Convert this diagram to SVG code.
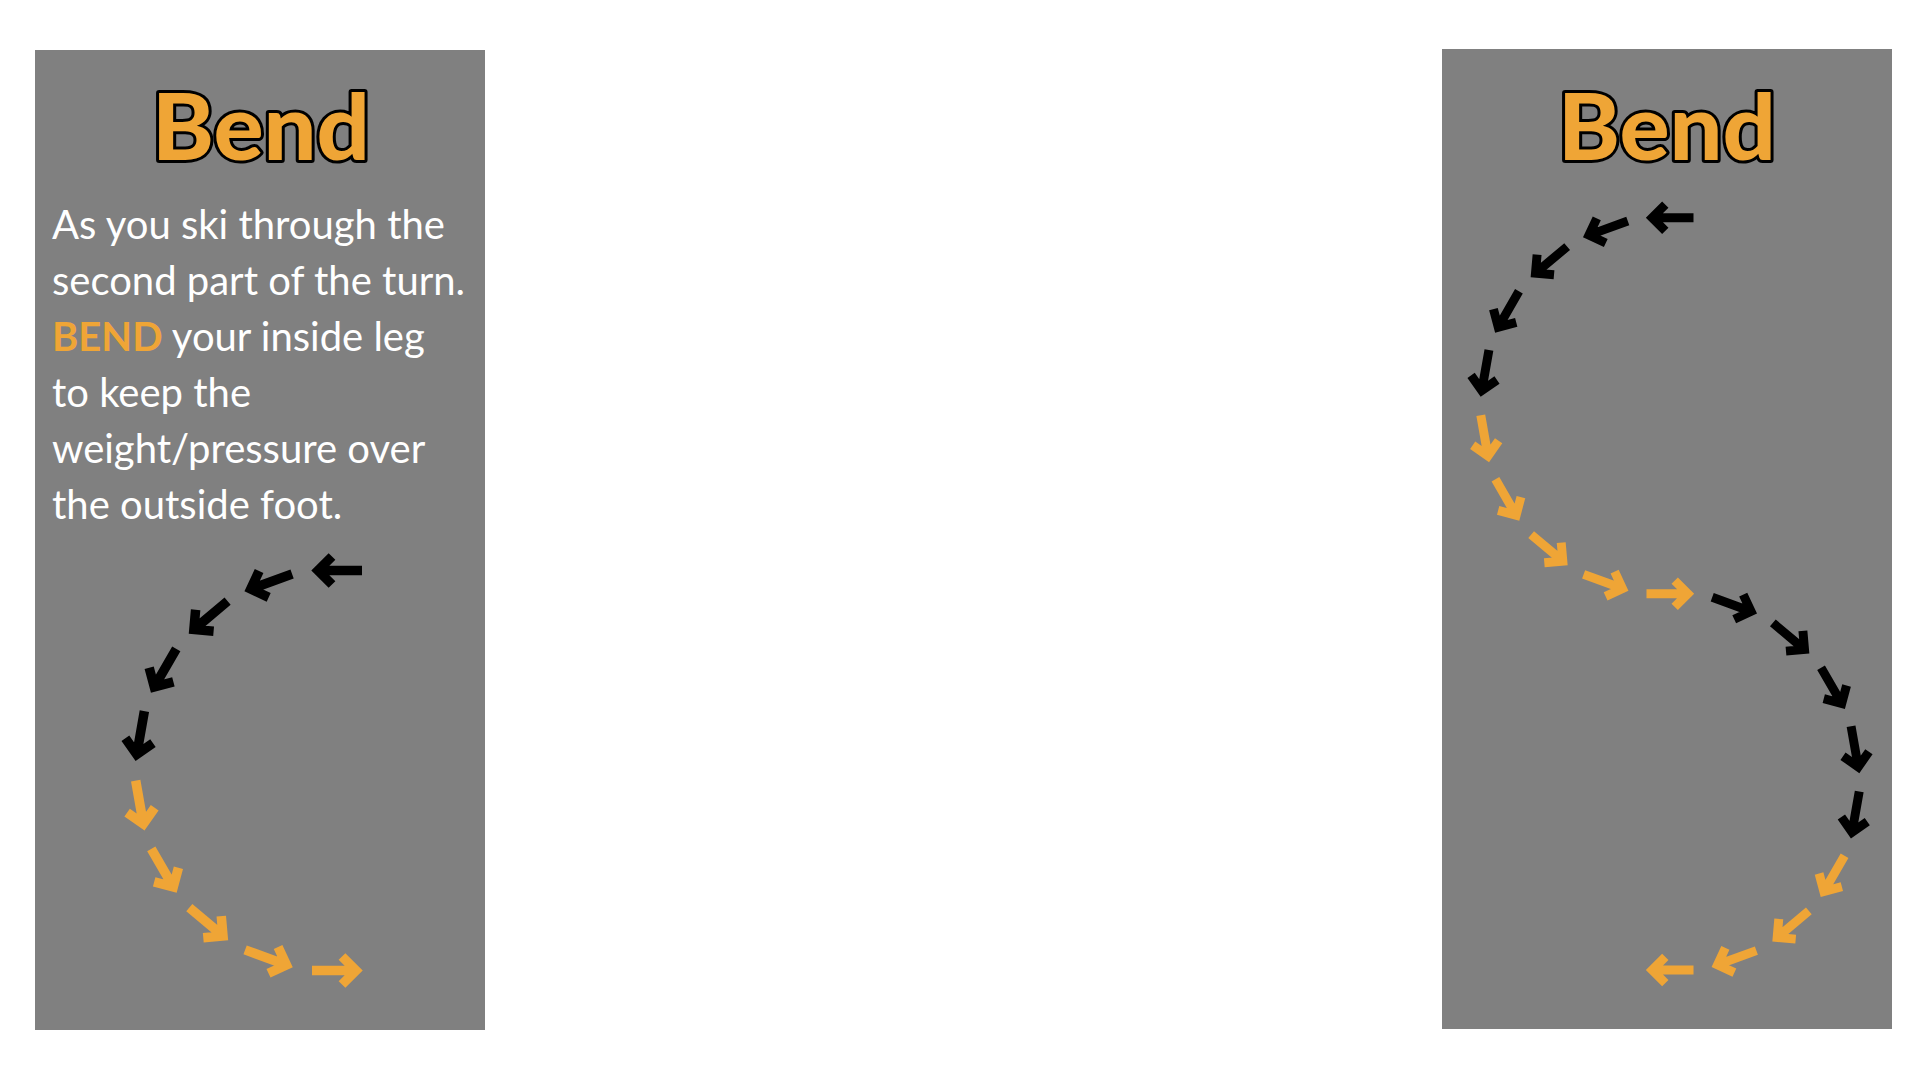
<svg xmlns="http://www.w3.org/2000/svg" xmlns:xlink="http://www.w3.org/1999/xlink" width="1920" height="1080" viewBox="0 0 1920 1080">
<style>
.panel{fill:#808080}
.title{font-family:Lato,"Liberation Sans",sans-serif;font-weight:900;font-size:92px;fill:#EFA536;stroke:#000;stroke-width:6px;stroke-linejoin:round;paint-order:stroke;text-anchor:middle}
.body{font-family:Lato,"Liberation Sans",sans-serif;font-size:40px;fill:#fff}
.hl{fill:#EFA536;font-weight:700}
.k{stroke:#000}
.o{stroke:#EFA536}
</style>
<defs>
<path id="arr" d="M-25 0 H19 M5 -14 L19 0 L5 14" fill="none" stroke-width="9.5" stroke-linejoin="miter" stroke-linecap="butt"/>
</defs>
<rect width="1920" height="1080" fill="#fff"/>
<g id="panel-left">
<rect class="panel" x="35" y="50" width="450" height="980"/>
<text class="title" x="261" y="160" textLength="218" lengthAdjust="spacingAndGlyphs">Bend</text>
<text class="body" x="52"><tspan x="52" y="239">As you ski through the</tspan><tspan x="52" y="295">second part of the turn.</tspan><tspan x="52" y="351"><tspan class="hl">BEND</tspan> your inside leg</tspan><tspan x="52" y="407">to keep the</tspan><tspan x="52" y="463">weight/pressure over</tspan><tspan x="52" y="519">the outside foot.</tspan></text>
</g>
<g id="panel-right">
<rect class="panel" x="1442" y="49" width="450" height="980"/>
<text class="title" x="1667" y="160" textLength="218" lengthAdjust="spacingAndGlyphs">Bend</text>
</g>
<g id="connectors">
<g id="arrows-left" transform="translate(337 770.5)">
<use xlink:href="#arr" class="k" transform="rotate(270) translate(200 0) rotate(-90)"/>
<use xlink:href="#arr" class="k" transform="rotate(250) translate(200 0) rotate(-90)"/>
<use xlink:href="#arr" class="k" transform="rotate(230) translate(200 0) rotate(-90)"/>
<use xlink:href="#arr" class="k" transform="rotate(210) translate(200 0) rotate(-90)"/>
<use xlink:href="#arr" class="k" transform="rotate(190) translate(200 0) rotate(-90)"/>
<use xlink:href="#arr" class="o" transform="rotate(170) translate(200 0) rotate(-90)"/>
<use xlink:href="#arr" class="o" transform="rotate(150) translate(200 0) rotate(-90)"/>
<use xlink:href="#arr" class="o" transform="rotate(130) translate(200 0) rotate(-90)"/>
<use xlink:href="#arr" class="o" transform="rotate(110) translate(200 0) rotate(-90)"/>
<use xlink:href="#arr" class="o" transform="rotate(90) translate(200 0) rotate(-90)"/>
</g>
<g id="arrows-right-top" transform="translate(1670 405.7) scale(0.94)">
<use xlink:href="#arr" class="k" transform="rotate(270) translate(200 0) rotate(-90)"/>
<use xlink:href="#arr" class="k" transform="rotate(250) translate(200 0) rotate(-90)"/>
<use xlink:href="#arr" class="k" transform="rotate(230) translate(200 0) rotate(-90)"/>
<use xlink:href="#arr" class="k" transform="rotate(210) translate(200 0) rotate(-90)"/>
<use xlink:href="#arr" class="k" transform="rotate(190) translate(200 0) rotate(-90)"/>
<use xlink:href="#arr" class="o" transform="rotate(170) translate(200 0) rotate(-90)"/>
<use xlink:href="#arr" class="o" transform="rotate(150) translate(200 0) rotate(-90)"/>
<use xlink:href="#arr" class="o" transform="rotate(130) translate(200 0) rotate(-90)"/>
<use xlink:href="#arr" class="o" transform="rotate(110) translate(200 0) rotate(-90)"/>
<use xlink:href="#arr" class="o" transform="rotate(90) translate(200 0) rotate(-90)"/>
</g>
<g id="arrows-right-bottom" transform="translate(1670 782) scale(0.94)">
<use xlink:href="#arr" class="k" transform="rotate(290) translate(200 0) rotate(90)"/>
<use xlink:href="#arr" class="k" transform="rotate(310) translate(200 0) rotate(90)"/>
<use xlink:href="#arr" class="k" transform="rotate(330) translate(200 0) rotate(90)"/>
<use xlink:href="#arr" class="k" transform="rotate(350) translate(200 0) rotate(90)"/>
<use xlink:href="#arr" class="k" transform="rotate(10) translate(200 0) rotate(90)"/>
<use xlink:href="#arr" class="o" transform="rotate(30) translate(200 0) rotate(90)"/>
<use xlink:href="#arr" class="o" transform="rotate(50) translate(200 0) rotate(90)"/>
<use xlink:href="#arr" class="o" transform="rotate(70) translate(200 0) rotate(90)"/>
<use xlink:href="#arr" class="o" transform="rotate(90) translate(200 0) rotate(90)"/>
</g>
</g>
</svg>
